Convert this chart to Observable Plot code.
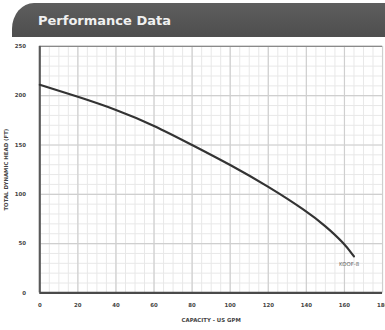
<!DOCTYPE html>
<html>
<head>
<meta charset="utf-8">
<script src="https://cdn.jsdelivr.net/npm/d3@7"></script>
<script src="https://cdn.jsdelivr.net/npm/@observablehq/plot@0.6"></script>
<style>
  html, body { margin: 0; padding: 0; background: #fff; overflow: hidden; }
  #wrap { width: 385px; height: 330px; overflow: hidden; position: relative; font-family: "DejaVu Sans", sans-serif; }
  #head { position: relative; height: 40px; }
  #banner { position: absolute; left: 12px; top: 3px; width: 390px; height: 34px;
    background: linear-gradient(#5e5e5e, #4e4e4e);
    border-top-left-radius: 22px 26px; color: #f0f0f0; font: bold 13px "DejaVu Sans", sans-serif; }
  #banner span { position: absolute; left: 26px; top: 10px; }
  #chart svg { display: block; overflow: visible; }
</style>
</head>
<body>
<div id="wrap">
  <div id="head"><div id="banner"><span>Performance Data</span></div></div>
  <div id="chart"></div>
</div>
<script>
const gpm  = [0, 20, 40, 60, 80, 100, 120, 140, 150, 160, 165];
const head = [211, 199, 186, 170, 150, 130, 108, 83, 68, 50, 37];
const xTicks = [0, 20, 40, 60, 80, 100, 120, 140, 160, 180];
const yTicks = [0, 50, 100, 150, 200, 250];
const curveLabel = "KOOF-8";
const xLabel = "CAPACITY - US GPM";
const yLabel = "TOTAL DYNAMIC HEAD (FT)";

const rows = gpm.map((g, i) => ({g, h: head[i]}));
const xMinor = d3.range(0, 181, 5);
const yMinor = d3.range(0, 251, 10);
const last = rows[rows.length - 1];

const plot = Plot.plot({
  width: 392,
  height: 290,
  marginLeft: 40,
  marginRight: 3,
  marginTop: 6,
  marginBottom: 33,
  x: {domain: [0, 180], ticks: xTicks, tickSize: 0, tickPadding: 10, label: xLabel, labelAnchor: "center", labelArrow: "none", labelOffset: 30},
  y: {domain: [0, 250], ticks: yTicks, tickSize: 0, tickPadding: 14, label: yLabel, labelAnchor: "center", labelArrow: "none", labelOffset: 36},
  style: {fontFamily: "DejaVu Sans, sans-serif", fontSize: "5.5px", fontWeight: "bold", color: "#444"},
  marks: [
    Plot.ruleX(xMinor, {stroke: "#e8e8e8", strokeWidth: 1}),
    Plot.ruleY(yMinor, {stroke: "#e8e8e8", strokeWidth: 1}),
    Plot.ruleX(xTicks, {stroke: "#cfcfcf", strokeWidth: 1.2}),
    Plot.ruleY(yTicks, {stroke: "#cfcfcf", strokeWidth: 1.2}),
    Plot.ruleY([250], {stroke: "#8a8a8a", strokeWidth: 1.5}),
    Plot.ruleX([0], {stroke: "#5a5a5a", strokeWidth: 2.2}),
    Plot.ruleY([0], {stroke: "#4a4a4a", strokeWidth: 2.5}),
    Plot.line(rows, {x: "g", y: "h", stroke: "#333", strokeWidth: 2.2, curve: "basis"}),
    Plot.text([last], {x: "g", y: "h", text: () => curveLabel, dy: 8, dx: -5, fill: "#666", fontSize: 5.5, fontWeight: "normal"})
  ]
});
document.getElementById("chart").appendChild(plot);
</script>
</body>
</html>
